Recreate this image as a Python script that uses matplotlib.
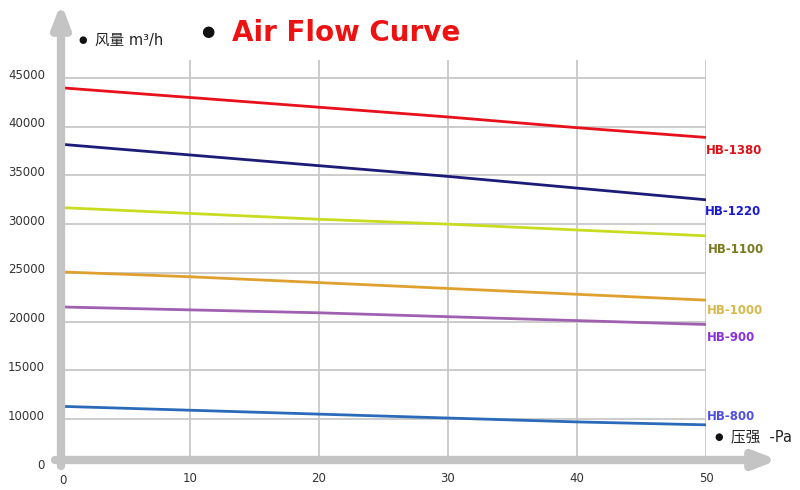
import numpy as np
import matplotlib
matplotlib.use("Agg")
import matplotlib.pyplot as plt

plt.rcParams['font.family'] = ['DejaVu Sans', 'Noto Sans CJK SC']

# pressure (Pa) and air flow (m3/h) per model
pressure = [0, 10, 20, 30, 40, 50]
hb1380 = [44000, 43000, 42000, 41000, 39900, 38900]
hb1220 = [38200, 37100, 36000, 34900, 33700, 32500]
hb1100 = [31700, 31100, 30500, 30000, 29400, 28800]
hb1000 = [25100, 24600, 24000, 23400, 22800, 22200]
hb900 = [21500, 21200, 20900, 20500, 20100, 19700]
hb800 = [11300, 10900, 10500, 10100, 9700, 9400]

models = ["HB-1380", "HB-1220", "HB-1100", "HB-1000", "HB-900", "HB-800"]
series = [hb1380, hb1220, hb1100, hb1000, hb900, hb800]
line_cols = ["#e8101a", "#1c1c78", "#c8dc20", "#e0a030", "#a060b0", "#2a6ab8"]
label_cols = ["#e01018", "#1a1ad0", "#7a7a20", "#d8b848", "#8a30e0", "#5050e0"]
label_y = [151, 211, 249, 311, 337, 416]   # pixel rows of right labels
label_x = [706, 705, 708, 707, 707, 707]

y_ticks = [10000, 15000, 20000, 25000, 30000, 35000, 40000, 45000]
x_ticks = [10, 20, 30, 40, 50]

W, H = 800, 490
fig = plt.figure(figsize=(8, 4.9), dpi=100)
ax_l, ax_r, ax_t, ax_b = 61, 706, 60, 460
ax = fig.add_axes([ax_l / W, 1 - ax_b / H, (ax_r - ax_l) / W, (ax_b - ax_t) / H])

ppk = (419 - 78) / 35.0   # pixels per 1000
ylo = 10000 - (ax_b - 419) / ppk * 1000
yhi = 45000 + (78 - ax_t) / ppk * 1000
ax.set_xlim(0, 50)
ax.set_ylim(ylo, yhi)

for v in y_ticks:
    ax.axhline(v, color="#c8c8c8", lw=1.3, zorder=1)
for v in x_ticks:
    ax.axvline(v, color="#c8c8c8", lw=1.3, zorder=1)

for s, c in zip(series, line_cols):
    ax.plot(pressure, s, color=c, lw=2, zorder=3)

for sp in ax.spines.values():
    sp.set_visible(False)
ax.set_xticks([])
ax.set_yticks([])

def fx(px):
    return px / W

def fy(py):
    return 1 - py / H

# axis arrows
arrow = dict(arrowstyle="-|>,head_width=0.5,head_length=1.3", color="#c4c4c4", lw=6,
             shrinkA=0, shrinkB=0)
fig.add_artist(matplotlib.patches.FancyArrowPatch((fx(61), fy(466)), (fx(61), fy(3)),
               transform=fig.transFigure, mutation_scale=10, **arrow))
fig.add_artist(matplotlib.patches.FancyArrowPatch((fx(55), fy(460)), (fx(778), fy(460)),
               transform=fig.transFigure, mutation_scale=10, **arrow))

# tick labels
for v in y_ticks:
    py = ax_b - (v - ylo) / 1000 * ppk
    fig.text(fx(45), fy(py - 3), str(v), ha="right", va="center", fontsize=8.5, color="#333333")
fig.text(fx(45), fy(465), "0", ha="right", va="center", fontsize=8.5, color="#333333")
fig.text(fx(63), fy(480), "0", ha="center", va="center", fontsize=8.5, color="#333333")
for v in x_ticks:
    px = ax_l + v / 50 * (ax_r - ax_l)
    fig.text(fx(px), fy(478), str(v), ha="center", va="center", fontsize=8.5, color="#333333")

# model labels
for name, c, x, y in zip(models, label_cols, label_x, label_y):
    fig.text(fx(x), fy(y), name, ha="left", va="center", fontsize=8.5,
             fontweight="bold", color=c)

# titles
fig.text(fx(78), fy(40), "●", ha="left", va="center", fontsize=7, color="#111111")
fig.text(fx(95), fy(40), "风量 m³/h", ha="left", va="center", fontsize=10.5, color="#222222")
fig.text(fx(201), fy(32), "●", ha="left", va="center", fontsize=11, color="#111111")
fig.text(fx(232), fy(33), "Air Flow Curve", ha="left", va="center", fontsize=20,
         fontweight="bold", color="#ee1111")
fig.text(fx(714), fy(437), "●", ha="left", va="center", fontsize=7, color="#111111")
fig.text(fx(731), fy(437), "压强  -Pa", ha="left", va="center", fontsize=10.5, color="#222222")

fig.savefig("out.png", dpi=100, facecolor="white")
